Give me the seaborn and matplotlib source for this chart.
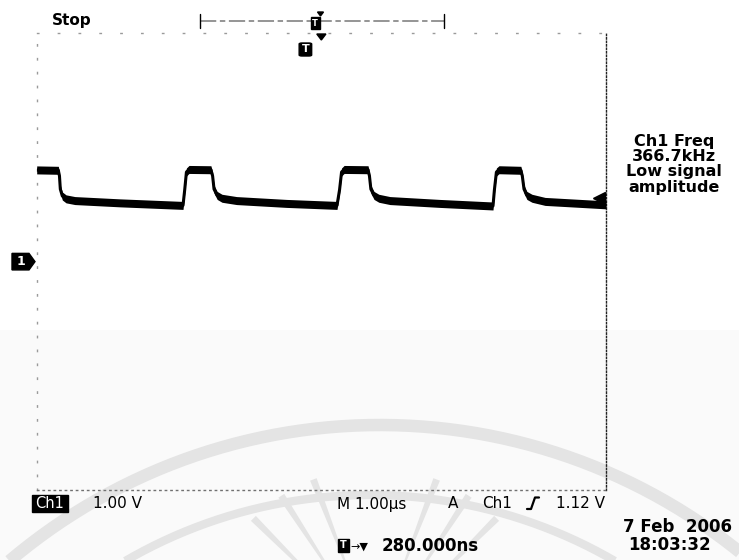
import numpy as np
import matplotlib
matplotlib.use("Agg")
import matplotlib.pyplot as plt
import matplotlib.transforms as mtransforms
from matplotlib.patches import Polygon, FancyBboxPatch, Rectangle
import seaborn as sns

# ---- Channel 1 acquisition (time in microseconds, level in volts) ----
time_us = [0.00, 0.38, 0.40, 0.415, 0.45, 0.515, 0.67, 1.46, 2.57,
           2.60, 2.63, 2.675, 3.06, 3.09, 3.115, 3.17, 3.255, 3.51, 4.39, 5.275,
           5.32, 5.355, 5.40, 5.82, 5.845, 5.87, 5.925, 6.01, 6.205, 7.08, 8.015,
           8.04, 8.075, 8.12, 8.505, 8.53, 8.56, 8.61, 8.70, 8.93, 10.0]
volts = [1.607, 1.60, 1.50, 1.27, 1.15, 1.10, 1.07, 1.03, 0.985,
         1.26, 1.57, 1.615, 1.61, 1.50, 1.27, 1.16, 1.11, 1.07, 1.02, 0.985,
         1.26, 1.57, 1.615, 1.61, 1.50, 1.27, 1.16, 1.11, 1.07, 1.02, 0.975,
         1.26, 1.57, 1.61, 1.60, 1.50, 1.27, 1.16, 1.11, 1.055, 0.995]

# ---- scope settings ----
us_per_div = 1.00
volts_per_div = 1.00
n_hdiv, n_vdiv = 10, 8
ground_v = 0.0
trigger_level_v = 1.12
trigger_delay_ns = 280.000
freq_khz = 366.7
acq_state = "Stop"
meas_lines = ["Ch1 Freq", f"{freq_khz:.1f}kHz", "Low signal", "amplitude"]
stamp_date = "7 Feb  2006"
stamp_time = "18:03:32"

W, H = 739, 560
sns.set_theme(style="white")
plt.rcParams["font.family"] = ["DejaVu Sans"]
plt.rcParams["text.color"] = "black"

fig = plt.figure(figsize=(W / 100, H / 100), dpi=100, facecolor="white")

# full-figure layer in pixel units for the screen furniture
bg = fig.add_axes([0, 0, 1, 1], zorder=0)
bg.set_xlim(0, W)
bg.set_ylim(H, 0)
bg.axis("off")

# faint background logo
bg.add_patch(Rectangle((0, 330), W, H - 330, color="#fafafa", lw=0, zorder=0))
wm = "#e4e4e4"
th = np.linspace(np.pi, 2 * np.pi, 400)
for cx, cy, r, lw in [(380, 998, 573, 9), (370, 982, 487, 6)]:
    bg.plot(cx + r * np.cos(th), cy + r * np.sin(th), color=wm, lw=lw,
            solid_capstyle="butt", zorder=0.5)
rc = (375, 640)
for a in np.deg2rad([-45, -33, -21, 21, 33, 45]):
    ux, uy = np.sin(a), -np.cos(a)
    px, py = -uy, ux
    r0, r1, w0, w1 = 80, 172, 1.0, 3.5
    pts = [(rc[0] + ux * r0 + px * w0, rc[1] + uy * r0 + py * w0),
           (rc[0] + ux * r1 + px * w1, rc[1] + uy * r1 + py * w1),
           (rc[0] + ux * r1 - px * w1, rc[1] + uy * r1 - py * w1),
           (rc[0] + ux * r0 - px * w0, rc[1] + uy * r0 - py * w0)]
    bg.add_patch(Polygon(pts, closed=True, color=wm, lw=0, zorder=0.5))

# graticule
x0, x1, y0, y1 = 36.7, 606.0, 33.3, 490.0
ax = fig.add_axes([x0 / W, 1 - y1 / H, (x1 - x0) / W, (y1 - y0) / H], zorder=2)
ax.set_facecolor("none")
ax.set_xlim(0, n_hdiv * us_per_div)
ax.set_ylim(-n_vdiv / 2 * volts_per_div, n_vdiv / 2 * volts_per_div)
ax.set_xticks([])
ax.set_yticks([])
for side, dash, col in [("left", (0, (1, 9)), "#9a9a9a"), ("top", (0, (1, 14)), "#9a9a9a"),
                        ("right", (0, (1, 1.5)), "#222222"), ("bottom", (0, (1, 3)), "#707070")]:
    ax.spines[side].set_visible(True)
    ax.spines[side].set_linestyle(dash)
    ax.spines[side].set_color(col)
    ax.spines[side].set_linewidth(1.0)

# the trace: vertical noise band plus the core line
v = np.array(volts)
ax.fill_between(time_us, v - 0.07, v + 0.07, color="black", lw=0, zorder=3)
sns.lineplot(x=time_us, y=volts, ax=ax, color="black", lw=2.2, sort=False,
             estimator=None, zorder=4)

# trigger level arrow on the right edge
ax.plot(9.88, trigger_level_v, marker="<", ms=8, color="black", zorder=5, clip_on=False)

# channel 1 ground marker
gtr = mtransforms.blended_transform_factory(bg.transData, ax.transData)
dv = 0.145
bg.add_patch(Polygon([(12, ground_v + dv), (29, ground_v + dv), (35, ground_v),
                      (29, ground_v - dv), (12, ground_v - dv)], closed=True,
                     color="black", transform=gtr, zorder=3))
bg.text(21, ground_v, "1", transform=gtr, color="white", fontsize=9, fontweight="bold",
        ha="center", va="center", zorder=4)

# trigger position marker (screen centre minus trigger delay)
ttr = mtransforms.blended_transform_factory(ax.transData, bg.transData)
t_center = n_hdiv * us_per_div / 2
t_trig = t_center - trigger_delay_ns / 1000.0
bg.add_patch(Polygon([(t_center - 0.08, 34), (t_center + 0.08, 34), (t_center, 40)],
                     closed=True, color="black", transform=ttr, zorder=3))
bg.add_patch(FancyBboxPatch((t_trig - 0.11, 43), 0.22, 13,
                            boxstyle="round,pad=0,rounding_size=0.05",
                            color="black", transform=ttr, zorder=3, mutation_aspect=20))
bg.text(t_trig, 49.5, "T", transform=ttr, color="white", fontsize=8, fontweight="bold",
        ha="center", va="center", zorder=4)

# record view bar
bg.plot([199.5, 443.5], [20.7, 20.7], color="#8c8c8c", lw=1.3, zorder=2,
        linestyle=(0, (9, 2, 3, 2)))
bg.plot([199.5, 199.5], [14, 28], color="black", lw=1.0, zorder=2)
bg.plot([443.5, 443.5], [14, 28], color="black", lw=1.0, zorder=2)
bg.add_patch(Rectangle((310.5, 17), 9, 12, color="black", zorder=3))
bg.text(315, 23, "T", color="white", fontsize=6, fontweight="bold",
        ha="center", va="center", zorder=4)
bg.add_patch(Polygon([(317.5, 12), (323.5, 12), (320.5, 16)], closed=True,
                     color="black", zorder=3))

# status / measurement texts
bg.text(52, 25.5, acq_state, fontsize=11, fontweight="bold", ha="left", va="baseline")
for i, line in enumerate(meas_lines):
    bg.text(674, 145.7 + 15.3 * i, line, fontsize=11.5, fontweight="bold",
            ha="center", va="baseline")

# bottom readout
bg.add_patch(Rectangle((32, 495), 36, 17, color="black", zorder=3))
bg.text(50, 508.5, "Ch1", color="white", fontsize=10.5, ha="center", va="baseline", zorder=4)
bg.text(93, 508.5, f"{volts_per_div:.2f} V", fontsize=11, ha="left", va="baseline")
bg.text(337, 508.5, f"M {us_per_div:.2f}\u00b5s", fontsize=11, ha="left", va="baseline")
bg.text(448, 508.5, "A", fontsize=11, ha="left", va="baseline")
bg.text(482, 508.5, "Ch1", fontsize=11, ha="left", va="baseline")
bg.plot([527, 531, 535, 539], [509, 509, 497.5, 497.5], color="black", lw=1.6)
bg.text(605, 508.5, f"{trigger_level_v:.2f} V", fontsize=11, ha="right", va="baseline")

bg.text(623, 531.7, stamp_date, fontsize=12, fontweight="bold", ha="left", va="baseline")
bg.text(628, 550, stamp_time, fontsize=12, fontweight="bold", ha="left", va="baseline")

bg.add_patch(Rectangle((338, 539), 11, 13, color="black", zorder=3))
bg.text(343.5, 545.5, "T", color="white", fontsize=7, fontweight="bold",
        ha="center", va="center", zorder=4)
bg.text(350, 550, "\u2192\u25bc", fontsize=8, ha="left", va="baseline")
bg.text(382, 551, f"{trigger_delay_ns:.3f}ns", fontsize=12, fontweight="bold",
        ha="left", va="baseline")

fig.savefig("out.png", dpi=100, facecolor="white")
